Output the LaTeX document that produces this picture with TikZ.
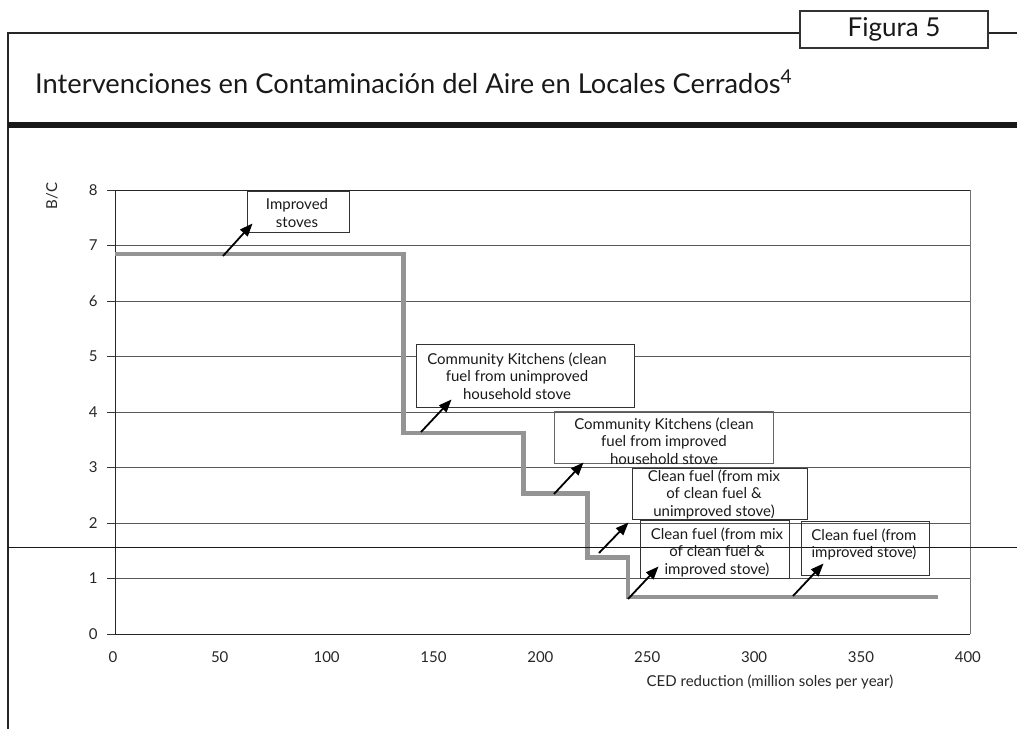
\documentclass[tikz,border=0pt]{standalone}
\usepackage{fontspec}
\setmainfont{Lato}
\usetikzlibrary{arrows.meta, positioning}

\tikzset{
  notebox/.style = {draw = black!80, line width = 0.9pt, inner sep = 0pt},
  notetext/.style = {font = \fontsize{15}{17.5}\selectfont, align = center, text = black!90},
  pointer/.style = {line width = 1.8pt, -{Triangle[length = 13pt, width = 10pt]}},
  gridline/.style = {black!65, line width = 1pt},
  ticklabel/.style = {font = \fontsize{15}{18}\selectfont, text = black!85},
  stepline/.style = {black!42, line width = 4.5pt}
}

\begin{document}
\begin{tikzpicture}[x = 1pt, y = -1pt]
\useasboundingbox (0, 0) rectangle (1017, 729);
% frame and heading
\node[draw = black!80, line width = 1.2pt, minimum width = 188pt, minimum height = 37pt,
  font = \fontsize{26}{30}\selectfont, text = black!90] (figno) at (894, 29.5) {Figura 5};
\draw[line width = 1.2pt, black!85] (figno.west |- 0, 33) -- (8, 33) -- (8, 729);
\draw[line width = 1.2pt, black!85] (figno.east |- 0, 33) -- (1017, 33);
\node[anchor = base west, font = \fontsize{27.3}{31}\selectfont, text = black!90, inner sep = 0pt]
  (title) at (35, 93) {Intervenciones en Contaminación del Aire en Locales Cerrados\textsuperscript{4}};
\draw[line width = 6pt, black!90] (8, 124.5) -- (1017, 124.5);
% chart in data units
\begin{scope}[shift = {(115, 634)}, x = 2.1375pt, y = 55.5pt]
  \foreach \v in {1, ..., 7}
    \draw[gridline] (0, \v) -- (400, \v);
  \foreach \v in {0, ..., 8} {
    \draw[black!80, line width = 1pt] (-3.74, \v) -- (0, \v);
    \node[ticklabel, anchor = east] at (-6.5, \v) {\v};
  }
  \foreach \v in {0, 50, ..., 400}
    \node[ticklabel] at (\v - 1, -0.41) {\v};
  \draw[black!85, line width = 1pt] (0, 8) -- (0, 0) -- (400, 0);
  \draw[black!85, line width = 1pt] (0, 8) -- (400, 8);
  \draw[black!55, line width = 1pt] (400, 8) -- (400, 0);
  \draw[stepline]
    (0, 6.85) -- (135, 6.85) -- (135, 3.62) -- (191, 3.62) -- (191, 2.53) --
    (221, 2.53) -- (221, 1.38) -- (240, 1.38) -- (240, 0.67) -- (385, 0.67);
  \node[ticklabel] (xtitle) at (306.4, -0.86) {CED reduction (million soles per year)};
\end{scope}
\node[ticklabel, rotate = 90] (ytitle) at (52, 196) {B/C};
\draw[black!90, line width = 1pt] (8, 547) -- (1017, 547);
% labels and pointers
\node[notebox, minimum width = 102pt, minimum height = 41pt] (stoves) at (298, 211.5) {};
\node[notetext] at (297, 213) {Improved\\stoves};
\node[notebox, fill = white, minimum width = 218pt, minimum height = 63pt] (kitchenA) at (525, 375.5) {};
\node[notetext] at (517, 376) {Community Kitchens (clean\\fuel from unimproved\\household stove};
\node[notebox, draw = black!60, minimum width = 219pt, minimum height = 52pt] (kitchenB) at (663.5, 437) {};
\node[notetext] at (664, 441) {Community Kitchens (clean\\fuel from improved\\household stove};
\node[notebox, minimum width = 175pt, minimum height = 51pt] (mixA) at (719.5, 493.5) {};
\node[notetext] at (714, 494) {Clean fuel (from mix\\of clean fuel \&\\unimproved stove)};
\node[notebox, minimum width = 149pt, minimum height = 58pt] (mixB) at (714.5, 549) {};
\node[notetext] at (717, 552) {Clean fuel (from mix\\of clean fuel \&\\improved stove)};
\node[notebox, minimum width = 128pt, minimum height = 54pt] (cleanC) at (865, 548) {};
\node[notetext] at (864, 544.5) {Clean fuel (from\\improved stove)};
\coordinate (p1) at (223, 256);
\coordinate (p2) at (421, 432);
\coordinate (p3) at (554, 494);
\coordinate (p4) at (599, 553);
\coordinate (p5) at (628, 599);
\coordinate (p6) at (793, 596);
\draw[pointer] (p1) -- ([shift = {(6, -9)}]stoves.south west);
\draw[pointer] (p2) -- ([shift = {(36, -8)}]kitchenA.south west);
\draw[pointer] (p3) -- ([shift = {(30, -1)}]kitchenB.south west);
\draw[pointer] (p4) -- ([shift = {(-3, 3)}]mixA.south west);
\draw[pointer] (p5) -- ([shift = {(19, -12)}]mixB.south west);
\draw[pointer] (p6) -- ([shift = {(23, -12)}]cleanC.south west);
\end{tikzpicture}
\end{document}
